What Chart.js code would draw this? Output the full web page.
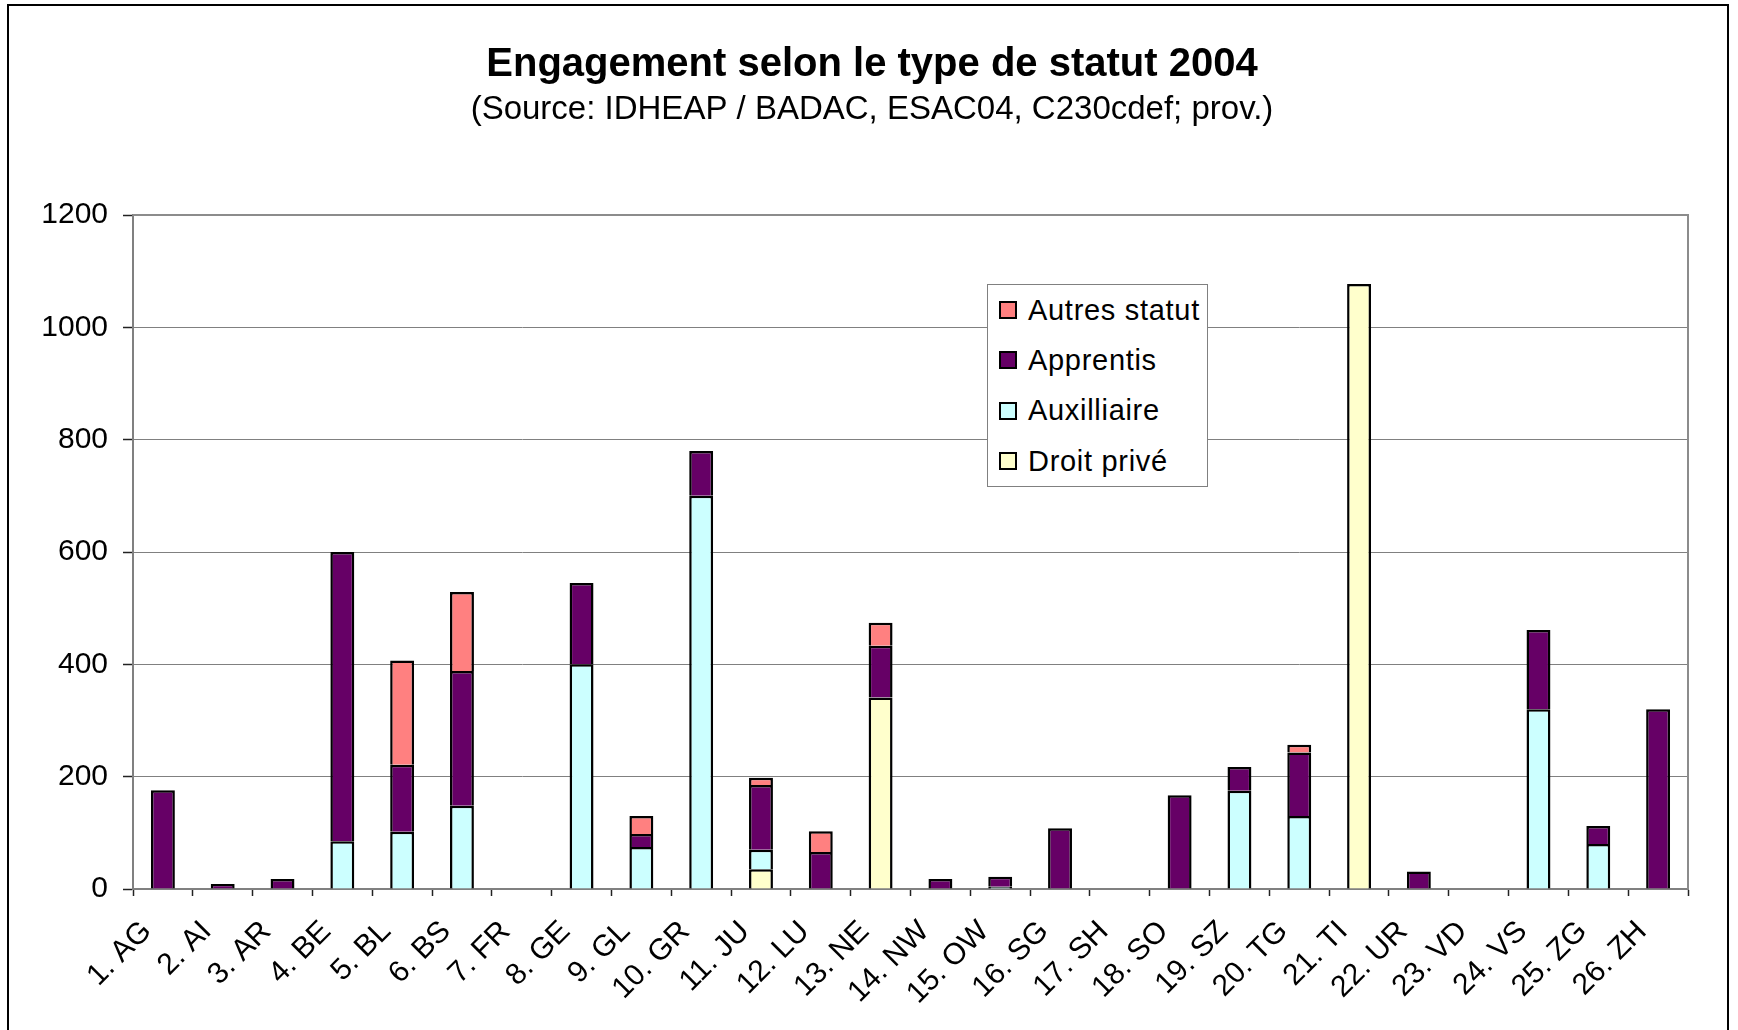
<!DOCTYPE html>
<html lang="fr">
<head>
  <meta charset="UTF-8" />
  <title>Engagement selon le type de statut 2004</title>
  <script src="https://cdn.jsdelivr.net/npm/chart.js"></script>
  <style>
    html, body { margin: 0; padding: 0; background: #fff; overflow: hidden; }
    body { width: 1738px; height: 1030px; position: relative; font-family: "Liberation Sans", Arial, sans-serif; }
    .frame {
      position: absolute; left: 7px; top: 4px; width: 1722px; height: 1200px;
      border: 2px solid #000; box-sizing: border-box;
    }
    .chart-wrap { position: absolute; left: 0; top: 0; width: 1738px; height: 1030px; }
    #statutChart { width: 1738px !important; height: 1030px !important; }
    .legend {
      position: absolute; left: 987px; top: 284px; width: 221px; height: 203px;
      border: 1.5px solid #808080; background: #fff; box-sizing: border-box;
      padding-top: 0px;
    }
    .legend-item { height: 50.3px; display: flex; align-items: center; font-size: 29px; letter-spacing: 0.7px; color: #000; }
    .legend-item .sw {
      width: 18px; height: 18px; border: 2px solid #000; box-sizing: border-box;
      margin-left: 11px; margin-right: 11px;
    }
  </style>
</head>
<body>
  <div class="frame"></div>
  <div class="chart-wrap"><canvas id="statutChart" width="1738" height="1030"></canvas></div>
  <div class="legend" id="legend"></div>

  <script>
    // cantons
    const cantons = ['1. AG', '2. AI', '3. AR', '4. BE', '5. BL', '6. BS', '7. FR', '8. GE', '9. GL',
      '10. GR', '11. JU', '12. LU', '13. NE', '14. NW', '15. OW', '16. SG', '17. SH', '18. SO',
      '19. SZ', '20. TG', '21. TI', '22. UR', '23. VD', '24. VS', '25. ZG', '26. ZH'];

    // values (stacked bottom -> top)
    const droitPrive  = [null, null, null, null, null, null, null, null, null, null, 35, null, 341,
      null, null, null, null, null, null, null, 1077, null, null, null, null, null];
    const auxilliaire = [null, null, null, 85, 102, 148, null, 400, 75, 700, 35, null, null,
      null, 4, null, null, null, 175, 130, null, null, null, 320, 80, null];
    const apprentis   = [176, 9, 18, 515, 119, 240, null, 145, 23, 80, 115, 66, 92,
      18, 18, 108, null, 167, 42, 113, null, 31, null, 141, 32, 320];
    const autres      = [null, null, null, null, 186, 141, null, null, 32, null, 13, 37, 41,
      null, null, null, null, null, null, 14, null, null, null, null, null, null];

    const yTicks = [0, 200, 400, 600, 800, 1000, 1200];

    const FONT = '"Liberation Sans", Arial, sans-serif';

    const series = [
      { label: 'Droit privé', data: droitPrive, color: '#FFFFCC' },
      { label: 'Auxilliaire', data: auxilliaire, color: '#CCFFFF' },
      { label: 'Apprentis', data: apprentis, color: '#660066' },
      { label: 'Autres statut', data: autres, color: '#FF8080' }
    ];

    // gray frame around the plot area (top + right sides)
    const plotFrame = {
      id: 'plotFrame',
      afterDraw(chart) {
        const { ctx, chartArea: a } = chart;
        ctx.save();
        ctx.strokeStyle = '#8c8c8c';
        ctx.lineWidth = 2;
        ctx.beginPath();
        ctx.moveTo(a.left, a.top);
        ctx.lineTo(a.right, a.top);
        ctx.lineTo(a.right, a.bottom);
        ctx.stroke();
        ctx.restore();
      }
    };

    const ctx = document.getElementById('statutChart').getContext('2d');
    const chart = new Chart(ctx, {
      type: 'bar',
      data: {
        labels: cantons,
        datasets: series.map(s => ({
          label: s.label,
          data: s.data,
          backgroundColor: s.color,
          borderColor: '#000',
          borderWidth: 2.5,
          borderSkipped: 'start',
          barPercentage: 0.4,
          categoryPercentage: 1.0
        }))
      },
      options: {
        responsive: false,
        animation: false,
        devicePixelRatio: 1,
        layout: { padding: { left: 6, right: 0, top: 0, bottom: 0 } },
        plugins: {
          legend: { display: false },
          tooltip: { enabled: false },
          title: {
            display: true,
            text: 'Engagement selon le type de statut 2004',
            color: '#000',
            font: { family: FONT, size: 40, weight: 'bold', lineHeight: 1.1 },
            padding: { top: 43.3, bottom: 0 }
          },
          subtitle: {
            display: true,
            text: '(Source: IDHEAP / BADAC, ESAC04, C230cdef; prov.)',
            color: '#000',
            font: { family: FONT, size: 33 },
            padding: { top: 2.9, bottom: 85.2 }
          }
        },
        scales: {
          x: {
            stacked: true,
            afterFit(scale) { scale.height = 141; },
            border: { color: '#808080', width: 2 },
            grid: { offset: true, drawOnChartArea: false, drawTicks: true, tickLength: 7, tickColor: '#222', tickWidth: 1.5 },
            ticks: {
              color: '#000',
              font: { family: FONT, size: 30 },
              minRotation: 45,
              maxRotation: 45,
              autoSkip: false,
              labelOffset: -16,
              padding: 18
            }
          },
          y: {
            stacked: true,
            min: 0,
            max: 1200,
            afterFit(scale) { scale.width = 127; },
            afterBuildTicks(scale) { scale.ticks = yTicks.map(v => ({ value: v })); },
            border: { color: '#808080', width: 2 },
            grid: { color: '#808080', lineWidth: 1, drawTicks: true, tickLength: 10, tickColor: '#222', tickWidth: 1.5 },
            ticks: {
              color: '#000',
              font: { family: FONT, size: 30 },
              padding: 15,
              callback: v => String(v)
            }
          },
          // empty right-hand spacer so the plot ends where the original does
          spacer: {
            position: 'right',
            display: true,
            afterFit(scale) { scale.width = 50; },
            border: { display: false },
            grid: { display: false, drawTicks: false },
            ticks: { display: false }
          }
        }
      },
      plugins: [plotFrame]
    });

    // legend (top -> bottom is reverse of stack order)
    const legendEl = document.getElementById('legend');
    series.slice().reverse().forEach(s => {
      const item = document.createElement('div');
      item.className = 'legend-item';
      item.innerHTML = `<span class="sw" style="background:${s.color}"></span><span>${s.label}</span>`;
      legendEl.appendChild(item);
    });
  </script>
</body>
</html>
